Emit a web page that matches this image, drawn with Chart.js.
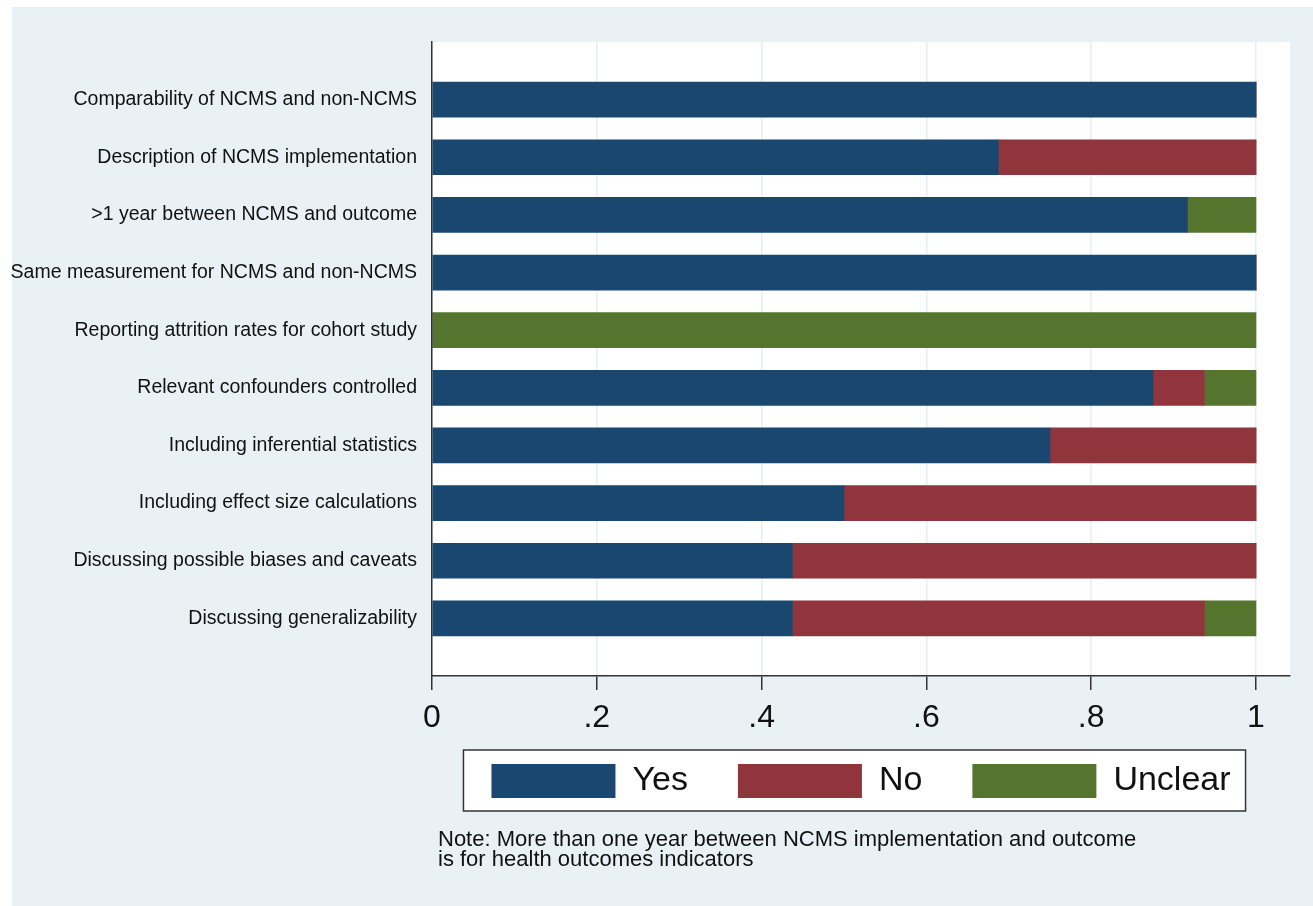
<!DOCTYPE html>
<html>
<head>
<meta charset="utf-8">
<script src="https://cdn.jsdelivr.net/npm/chart.js@4.4.1/dist/chart.umd.min.js"></script>
<style>
  html, body { margin: 0; padding: 0; background: #fff; }
  #wrap { width: 1313px; height: 906px; position: relative; }
</style>
</head>
<body>
<div id="wrap"><canvas id="qualityChart" width="1313" height="906"></canvas></div>
<script>
const categories = [
  "Comparability of NCMS and non-NCMS",
  "Description of NCMS implementation",
  ">1 year between NCMS and outcome",
  "Same measurement for NCMS and non-NCMS",
  "Reporting attrition rates for cohort study",
  "Relevant confounders controlled",
  "Including inferential statistics",
  "Including effect size calculations",
  "Discussing possible biases and caveats",
  "Discussing generalizability",
];
const yesValues = [1, 0.6875, 0.9167, 1, 0, 0.875, 0.75, 0.5, 0.4375, 0.4375];
const noValues = [0, 0.3125, 0, 0, 0, 0.0625, 0.25, 0.5, 0.5625, 0.5];
const unclearValues = [0, 0, 0.0833, 0, 1, 0.0625, 0, 0, 0, 0.0625];
const xTicks = [0, 0.2, 0.4, 0.6, 0.8, 1];
const noteLines = [
  "Note: More than one year between NCMS implementation and outcome",
  "is for health outcomes indicators",
];

const FONT = "'Liberation Sans', Arial, Helvetica, sans-serif";
const BG = "#eaf1f4";

// empty slot above and below the bars, like the Stata plot region
const pad = (arr) => [null, ...arr, null];
const labels = ["", ...categories, ""];

const backdrop = {
  id: "backdrop",
  afterLayout(chart) {
    // pull the legend up closer to the axis labels
    const lg = chart.legend;
    const h = lg.bottom - lg.top;
    lg.top = chart.chartArea.bottom + 38;
    lg.bottom = lg.top + h;
  },
  beforeDraw(chart) {
    const ctx = chart.ctx;
    const a = chart.chartArea;
    ctx.save();
    ctx.fillStyle = BG;
    ctx.fillRect(12, 7, chart.width - 12, chart.height - 7);
    ctx.fillStyle = "#fff";
    ctx.fillRect(a.left, a.top, a.right - a.left, a.bottom - a.top);

    const boxes = chart.legend.legendHitBoxes;
    if (boxes && boxes.length) {
      const first = boxes[0];
      const last = boxes[boxes.length - 1];
      const x0 = first.left - 28;
      const x1 = last.left + last.width + 15;
      const y0 = first.top - 14;
      const y1 = first.top + first.height + 13;
      ctx.fillStyle = "#fff";
      ctx.fillRect(x0, y0, x1 - x0, y1 - y0);
      ctx.strokeStyle = "#333";
      ctx.lineWidth = 1.5;
      ctx.strokeRect(x0, y0, x1 - x0, y1 - y0);
    }
    ctx.restore();
  },
  afterDraw(chart) {
    const ctx = chart.ctx;
    ctx.save();
    ctx.fillStyle = "#111";
    ctx.font = "22px " + FONT;
    ctx.textBaseline = "middle";
    noteLines.forEach((line, i) => {
      ctx.fillText(line, 438, 840 + i * 20);
    });
    ctx.restore();
  },
};

new Chart(document.getElementById("qualityChart"), {
  type: "bar",
  data: {
    labels: labels,
    datasets: [
      { label: "Yes", data: pad(yesValues), backgroundColor: "#1a476f" },
      { label: "No", data: pad(noValues), backgroundColor: "#90353b" },
      { label: "Unclear", data: pad(unclearValues), backgroundColor: "#55752f" },
    ],
  },
  options: {
    indexAxis: "y",
    responsive: false,
    animation: false,
    datasets: { bar: { barThickness: 35, borderWidth: 0 } },
    layout: { padding: { left: 0, right: 23, top: 42, bottom: 74 } },
    plugins: {
      tooltip: { enabled: false },
      legend: {
        position: "bottom",
        fullSize: false,
        labels: {
          boxWidth: 124,
          boxHeight: 34,
          padding: 50,
          color: "#111",
          font: { family: FONT, size: 34 },
        },
      },
    },
    scales: {
      x: {
        stacked: true,
        min: 0,
        max: 1.0413,
        afterBuildTicks: (scale) => {
          scale.ticks = xTicks.map((v) => ({ value: v }));
        },
        afterFit: (scale) => {
          scale.height = 62;
        },
        ticks: {
          includeBounds: false,
          padding: 9,
          color: "#111",
          font: { family: FONT, size: 32 },
          callback: (v) => (v === 0 ? "0" : v === 1 ? "1" : String(v).replace(/^0/, "")),
        },
        grid: {
          color: "#e6eef1",
          lineWidth: 1.5,
          tickLength: 14,
          tickColor: "#333",
          tickWidth: 1.5,
        },
        border: { display: true, color: "#333", width: 1.5 },
      },
      y: {
        stacked: true,
        offset: false,
        afterFit: (scale) => {
          scale.width = 432;
        },
        ticks: {
          padding: 15,
          color: "#111",
          autoSkip: false,
          font: { family: FONT, size: 19.5 },
        },
        grid: { display: false, drawTicks: false },
        border: { display: true, color: "#333", width: 1.5 },
      },
    },
  },
  plugins: [backdrop],
});
</script>
</body>
</html>
